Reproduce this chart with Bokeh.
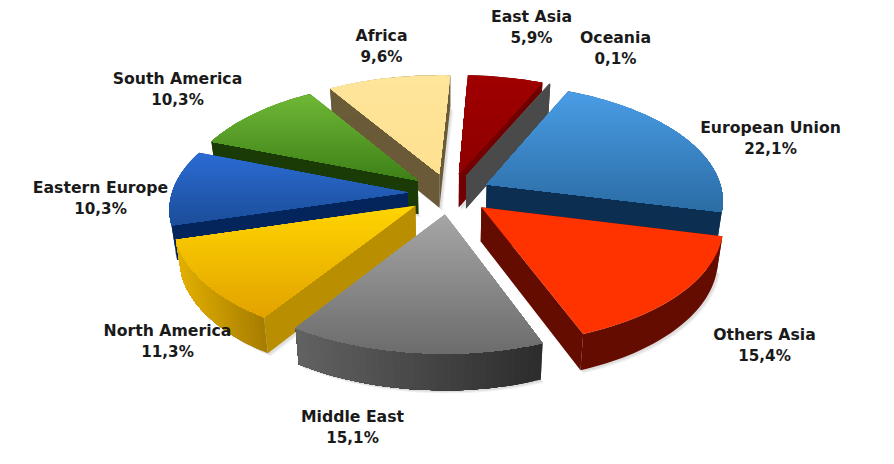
import numpy as np
from bokeh.plotting import figure
from bokeh.models import ColumnDataSource
from bokeh.core.properties import value
from bokeh.embed import file_html
from bokeh.resources import INLINE

# ---- data ----
regions = ["European Union", "Others Asia", "Middle East", "North America", "Eastern Europe",
           "South America", "Africa", "East Asia", "Oceania"]
shares = [22.1, 15.4, 15.1, 11.3, 10.3, 10.3, 9.6, 5.9, 0.1]

# ---- styles ----
top_colors = [("#4a9de6", "#2b6ca4"), ("#ff3300", "#ff3300"), ("#a6a6a6", "#6c6c6c"),
              ("#ffd500", "#e2a200"), ("#2b6cd4", "#1b4d98"), ("#6fb836", "#3e8018"),
              ("#fee59b", "#fee090"), ("#a00000", "#8e0000"), ("#555555", "#555555")]
arc_colors = [("#0c2e50", "#0c2e50"), ("#640c00", "#640c00"), ("#626262", "#2c2c2c"),
              ("#e3b000", "#a67c00"), ("#04245c", "#04245c"), ("#1a3a06", "#1a3a06"),
              ("#6b5c38", "#6b5c38"), ("#6e0000", "#6e0000"), ("#4a4a4a", "#4a4a4a")]
radial_colors = ["#0c2e50", "#640c00", "#5c5c5c", "#b98e00", "#04245c", "#1a3a06",
                 "#6a5a38", "#720000", "#4a4a4a"]
paint_order = [6, 7, 8, 0, 5, 4, 3, 1, 2]
label_xy = [(770, 127), (764, 334), (352, 416), (167, 330), (100, 187),
            (177, 78), (381, 35), (531, 16), (615, 37)]
shadow_steps = [(3.0, "#f0f0f0"), (1.8, "#dedede")]

CX, CY, R, T, K, H, SHRINK, EXPL = 449.0, 193.0, 236.0, 116.0, 0.126, 34.7, 0.02, 0.177
START = 24.0
W, HT = 892, 462


def project(u, v, z=0.0):
    s = (1 - SHRINK * z) / (1 - K * v)
    return CX + R * u * s, CY + (T * v + H * z) * s


def hexrgb(c):
    return np.array([int(c[i:i + 2], 16) for i in (1, 3, 5)], float)


def mix(a, b, f):
    f = min(max(f, 0.0), 1.0)
    c = hexrgb(a) * (1 - f) + hexrgb(b) * f
    return "#%02x%02x%02x" % tuple(int(round(x)) for x in c)


def clip(poly, y0, keep_below):
    out = []
    for i in range(len(poly)):
        a, b = poly[i], poly[(i + 1) % len(poly)]
        ina = a[1] >= y0 if keep_below else a[1] <= y0
        inb = b[1] >= y0 if keep_below else b[1] <= y0
        if ina:
            out.append(a)
        if ina != inb:
            f = (y0 - a[1]) / (b[1] - a[1])
            out.append((a[0] + f * (b[0] - a[0]), y0))
    return out


p = figure(width=W, height=HT, x_range=(0, W), y_range=(HT, 0),
           output_backend="svg", toolbar_location=None, min_border=0)
p.axis.visible = False
p.grid.visible = False
p.outline_line_color = None
p.background_fill_color = "white"
p.border_fill_color = "white"

xs, ys, cols = [], [], []


def add(poly, col):
    if len(poly) >= 3:
        xs.append([q[0] for q in poly])
        ys.append([q[1] for q in poly])
        cols.append(col)


edges = np.concatenate([[0], np.cumsum(shares)]) * 3.6 + START


def slice_rim(i):
    a0, a1 = np.radians(edges[i]), np.radians(edges[i + 1])
    mid = (a0 + a1) / 2
    eu, ev = EXPL * np.sin(mid), -EXPL * np.cos(mid)
    n = max(int((a1 - a0) / np.radians(1.5)), 2)
    ang = np.linspace(a0, a1, n + 1)
    return eu, ev, n, eu + np.sin(ang), ev - np.cos(ang)


# soft shadow under the whole pie, painted first
for off, col in shadow_steps:
    for i in paint_order:
        eu, ev, n, uu, vv = slice_rim(i)
        ring = [project(eu, ev, 1)] + [project(a, b, 1) for a, b in zip(uu, vv)]
        add([(q[0] + off, q[1] + off) for q in ring], col)

for i in paint_order:
    eu, ev, n, uu, vv = slice_rim(i)
    # radial side faces
    for k in (0, -1):
        add([project(eu, ev), project(uu[k], vv[k]), project(uu[k], vv[k], 1), project(eu, ev, 1)],
            radial_colors[i])
    # rim: one shape when flat, cumulative steps when shaded left to right
    tops = [project(a, b) for a, b in zip(uu, vv)]
    bots = [project(a, b, 1) for a, b in zip(uu, vv)]
    xmin, xmax = min(q[0] for q in tops), max(q[0] for q in tops)
    c0, c1 = arc_colors[i]
    if c0 == c1:
        add(tops + bots[::-1], c0)
    else:
        order = list(range(n))
        if tops[0][0] < tops[-1][0]:
            order = order[::-1]
        for k in order:
            f = ((tops[k][0] + tops[k + 1][0]) / 2 - xmin) / max(xmax - xmin, 1)
            lo, hi = (k, n) if tops[0][0] >= tops[-1][0] else (0, k + 1)
            add(tops[lo:hi + 1] + bots[lo:hi + 1][::-1], mix(c0, c1, f))
    # top face, shaded in horizontal bands; every band reaches the bottom of the face
    poly = [project(eu, ev)] + tops
    y0, y1 = min(q[1] for q in poly), max(q[1] for q in poly)
    bands = max(int((y1 - y0) / 3), 1)
    add(poly, top_colors[i][0])
    if top_colors[i][0] != top_colors[i][1]:
        for b in range(1, bands):
            ya = y0 + (y1 - y0) * b / bands
            add(clip(poly, ya, True), mix(*top_colors[i], (b + .5) / bands))

src = ColumnDataSource(dict(x=xs, y=ys, c=cols))
p.patches("x", "y", source=src, fill_color="c", line_color=None)

pct = [f"{v:.1f}".replace(".", ",") + "%" for v in shares]
lab = ColumnDataSource(dict(x=[q[0] for q in label_xy], y=[q[1] for q in label_xy],
                            y2=[q[1] + 21 for q in label_xy], n=regions, v=pct))
for yc, tc, size in (("y", "n", "15.7px"), ("y2", "v", "15.2px")):
    p.text("x", yc, text=tc, source=lab, text_align="center", text_baseline="middle",
           text_font=value("DejaVu Sans"), text_font_size=size, text_font_style="bold",
           text_color="#1a1a1a")

open("out.html", "w").write(file_html(p, INLINE))
